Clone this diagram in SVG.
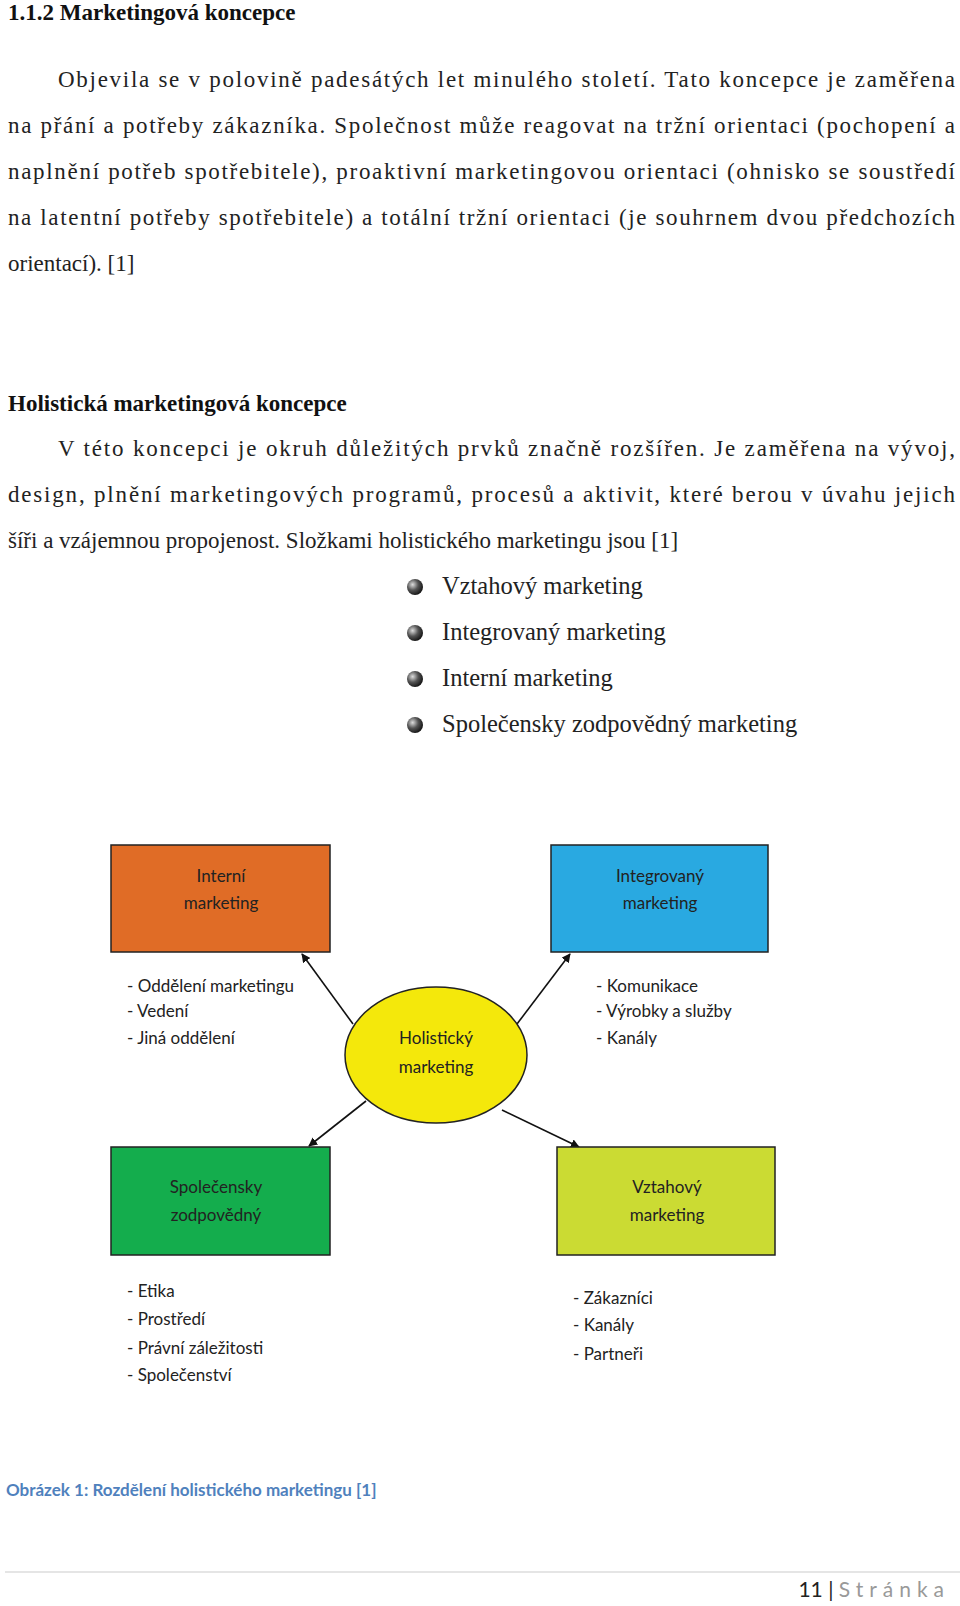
<svg xmlns="http://www.w3.org/2000/svg" width="960" height="1606" viewBox="0 0 960 1606">
<style>
.b{font-family:"Liberation Serif",serif;font-size:23px;fill:#222}
.h{font-family:"Liberation Serif",serif;font-size:23px;font-weight:bold;fill:#111}
.bl{font-family:"Liberation Serif",serif;font-size:24.5px;fill:#222}
.d{font-family:Lato,"Open Sans",sans-serif;font-size:17px;fill:#222}
.c{text-anchor:middle}
.box{stroke:#222;stroke-width:1.5}
.con{stroke:#111;stroke-width:1.6;fill:none;marker-end:url(#ar)}
</style>
<defs>
<marker id="ar" viewBox="0 0 10 10" refX="9" refY="5" markerWidth="9" markerHeight="9" orient="auto" markerUnits="userSpaceOnUse"><path d="M0,0 L10,5 L0,10 z" fill="#111"/></marker>
<radialGradient id="sp" cx="0.35" cy="0.35" r="0.7"><stop offset="0" stop-color="#ddd"/><stop offset="0.5" stop-color="#555"/><stop offset="1" stop-color="#111"/></radialGradient>
</defs>
<rect width="960" height="1606" fill="#fff"/>
<text x="8" y="20" class="h">1.1.2    Marketingová koncepce</text>
<text x="58" y="87" class="b" textLength="897" lengthAdjust="spacing">Objevila se v polovině padesátých let minulého století. Tato koncepce je zaměřena</text>
<text x="8" y="133" class="b" textLength="947" lengthAdjust="spacing">na přání a potřeby zákazníka. Společnost může reagovat na tržní orientaci (pochopení a</text>
<text x="8" y="179" class="b" textLength="947" lengthAdjust="spacing">naplnění potřeb spotřebitele), proaktivní marketingovou orientaci (ohnisko se soustředí</text>
<text x="8" y="225" class="b" textLength="947" lengthAdjust="spacing">na latentní potřeby spotřebitele) a totální tržní orientaci (je souhrnem dvou předchozích</text>
<text x="8" y="271" class="b">orientací). [1]</text>
<text x="8" y="411" class="h">Holistická marketingová koncepce</text>
<text x="58" y="456" class="b" textLength="897" lengthAdjust="spacing">V této koncepci je okruh důležitých prvků značně rozšířen. Je zaměřena na vývoj,</text>
<text x="8" y="502" class="b" textLength="947" lengthAdjust="spacing">design, plnění marketingových programů, procesů a aktivit, které berou v úvahu jejich</text>
<text x="8" y="548" class="b">šíři a vzájemnou propojenost. Složkami holistického marketingu jsou [1]</text>
<g id="bullets">
<circle cx="415" cy="587" r="8" fill="url(#sp)"/><text x="442" y="594" class="bl">Vztahový marketing</text>
<circle cx="415" cy="633" r="8" fill="url(#sp)"/><text x="442" y="640" class="bl">Integrovaný marketing</text>
<circle cx="415" cy="679" r="8" fill="url(#sp)"/><text x="442" y="686" class="bl">Interní marketing</text>
<circle cx="415" cy="725" r="8" fill="url(#sp)"/><text x="442" y="732" class="bl">Společensky zodpovědný marketing</text>
</g>
<g id="connectors">
<line x1="353" y1="1024" x2="302" y2="954" class="con"/>
<line x1="517" y1="1024" x2="570" y2="954" class="con"/>
<line x1="366" y1="1101" x2="309" y2="1146" class="con"/>
<line x1="502" y1="1110" x2="579" y2="1147" class="con"/>
</g>
<g id="interni"><rect x="111" y="845" width="219" height="107" fill="#e06c26" class="box"/>
<text x="221" y="882" class="d c">Interní</text><text x="221" y="909" class="d c">marketing</text></g>
<g id="integrovany"><rect x="551" y="845" width="217" height="107" fill="#29a9e1" class="box"/>
<text x="660" y="882" class="d c">Integrovaný</text><text x="660" y="909" class="d c">marketing</text></g>
<g id="spolecensky"><rect x="111" y="1147" width="219" height="108" fill="#14ad4d" class="box"/>
<text x="216" y="1193" class="d c">Společensky</text><text x="216" y="1221" class="d c">zodpovědný</text></g>
<g id="vztahovy"><rect x="557" y="1147" width="218" height="108" fill="#cbdb33" class="box"/>
<text x="667" y="1193" class="d c">Vztahový</text><text x="667" y="1221" class="d c">marketing</text></g>
<g id="holisticky"><ellipse cx="436" cy="1055" rx="91" ry="68" fill="#f4e80b" stroke="#222" stroke-width="1.5"/>
<text x="436" y="1044" class="d c">Holistický</text><text x="436" y="1073" class="d c">marketing</text></g>
<g id="lists">
<text x="127" y="992" class="d">- Oddělení marketingu</text>
<text x="127" y="1017" class="d">- Vedení</text>
<text x="127" y="1044" class="d">- Jiná oddělení</text>
<text x="596" y="992" class="d">- Komunikace</text>
<text x="596" y="1017" class="d">- Výrobky a služby</text>
<text x="596" y="1044" class="d">- Kanály</text>
<text x="127" y="1297" class="d">- Etika</text>
<text x="127" y="1325" class="d">- Prostředí</text>
<text x="127" y="1354" class="d">- Právní záležitosti</text>
<text x="127" y="1381" class="d">- Společenství</text>
<text x="573" y="1304" class="d">- Zákazníci</text>
<text x="573" y="1331" class="d">- Kanály</text>
<text x="573" y="1360" class="d">- Partneři</text>
</g>
<text x="6" y="1496" style="font-family:Lato,'Open Sans',sans-serif;font-size:17px;font-weight:bold;fill:#4f81bd">Obrázek 1: Rozdělení holistického marketingu [1]</text>
<line x1="5" y1="1572" x2="960" y2="1572" stroke="#ddd" stroke-width="1.5"/>
<text x="950" y="1597" text-anchor="end" style="font-family:Lato,'Open Sans',sans-serif;font-size:21px;fill:#222">11 | <tspan fill="#999" letter-spacing="6">Stránka</tspan></text>
</svg>
